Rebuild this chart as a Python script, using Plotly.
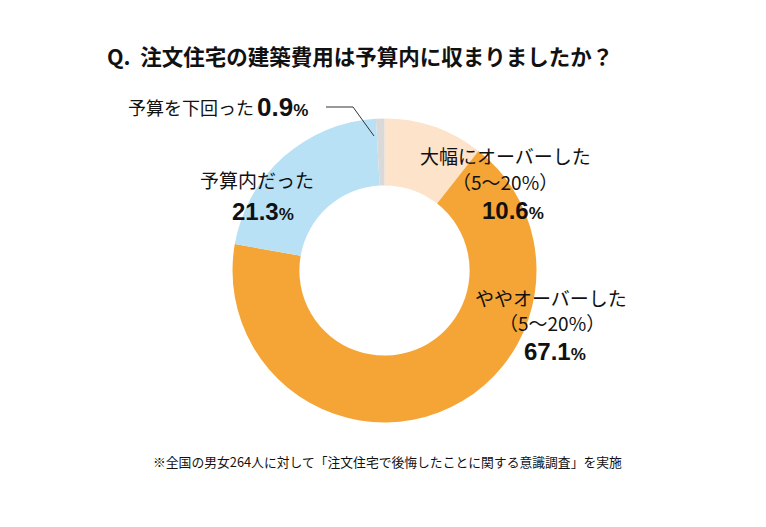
import plotly.graph_objects as go

# Survey answers (clockwise from 12 o'clock)
labels = ["大幅にオーバーした（5～20%）", "ややオーバーした（5～20%）", "予算内だった", "予算を下回った"]
values = [10.6, 67.1, 21.3, 0.9]
colors = ["#FCE3CA", "#F5A535", "#B8E1F6", "#D9D9D9"]

title = "Q.  注文住宅の建築費用は予算内に収まりましたか？"
note = "※全国の男女264人に対して「注文住宅で後悔したことに関する意識調査」を実施"

W, H = 766, 527
OFF = 8  # page margin of the browser
JP = "Noto Sans CJK JP, sans-serif"
NUM = "Liberation Sans, Arial, Noto Sans CJK JP, sans-serif"


def px(x, y):
    return (x - OFF) / W, 1 - (y - OFF) / H


cx, cy, r = 384.5, 270.5, 152
fig = go.Figure()
fig.add_trace(go.Pie(
    labels=labels, values=values, sort=False, direction="clockwise", rotation=0,
    hole=0.56, marker=dict(colors=colors, line=dict(width=0)),
    textinfo="none", showlegend=False,
    domain=dict(x=[px(cx - r, 0)[0], px(cx + r, 0)[0]],
                y=[px(0, cy + r)[1], px(0, cy - r)[1]]),
))


def pct(v, small):
    return f"<b>{v}</b><span style='font-size:{small}px'><b>%</b></span>"


def ann(x, y, text, size, family=JP, xanchor="center"):
    ax, ay = px(x, y)
    fig.add_annotation(x=ax, y=ay, xref="paper", yref="paper", text=text, showarrow=False,
                       xanchor=xanchor, yanchor="middle",
                       font=dict(family=family, size=size, color="#111111"))


def split(label):
    if "（" in label:
        a, b = label.split("（")
        return a, "（" + b
    return label, ""


ann(360, 56, f"<b>{title}</b>", 21.5)

# 大幅にオーバーした
a, b = split(labels[0])
ann(505, 156, a, 19)
ann(505, 181, b, 19)
ann(513, 210, pct(values[0], 17), 24, NUM)

# ややオーバーした
a, b = split(labels[1])
ann(551, 297, a, 19)
ann(552, 322, b, 19)
ann(555, 351, pct(values[1], 17), 24, NUM)

# 予算内だった
ann(257, 179, labels[2], 19)
ann(263, 211, pct(values[2], 17), 24, NUM)

# 予算を下回った
ann(126, 107, labels[3], 18, xanchor="left")
ann(255, 107, pct(values[3], 17), 26, NUM, xanchor="left")
x0, y0 = px(326, 107)
x1, y1 = px(353, 107)
x2, y2 = px(374, 136)
fig.add_shape(type="path", xref="paper", yref="paper",
              path=f"M {x0} {y0} L {x1} {y1} L {x2} {y2}",
              line=dict(color="#333333", width=1))

ann(387, 461, note, 12.8)

fig.update_layout(width=W, height=H, margin=dict(l=0, r=0, t=0, b=0),
                  paper_bgcolor="white", plot_bgcolor="white")
fig.write_html("out.html")
